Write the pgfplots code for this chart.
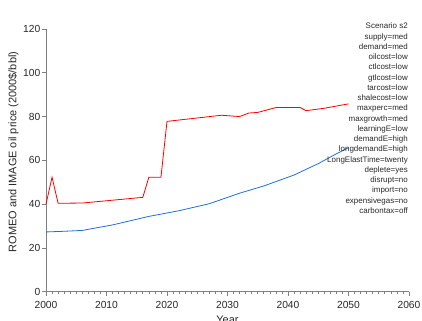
\documentclass[border=0pt]{standalone}
\usepackage{pgfplots}
\pgfplotsset{compat=1.18}
\usepackage{fontspec}
\setmainfont{Liberation Sans}
\definecolor{romeored}{RGB}{255,0,0}
\definecolor{imageblue}{RGB}{30,112,215}
\definecolor{axisgray}{RGB}{128,128,128}
\definecolor{labelgray}{RGB}{40,40,40}

\begin{document}
\begin{tikzpicture}
\begin{axis}[
  scale only axis,
  width=363bp, height=262.7bp,
  xmin=2000, xmax=2060, ymin=0, ymax=120,
  axis lines=left,
  axis line style={-, axisgray, line width=0.9bp},
  tick style={axisgray, line width=0.7bp},
  tick align=outside,
  major tick length=4bp,
  minor tick length=2bp,
  xtick={2000,2010,...,2060},
  ytick={0,20,...,120},
  minor x tick num=9,
  minor y tick num=0,
  /pgf/number format/assume math mode=true,
  /pgf/number format/1000 sep={},
  tick label style={font=\fontsize{10.3}{12}\selectfont, text=labelgray},
  xticklabel style={inner sep=1bp, yshift=-4bp},
  yticklabel style={inner sep=1.5bp},
  xlabel={Year},
  ylabel={ROMEO and IMAGE oil price (2000\$/bbl)},
  label style={font=\fontsize{11}{13}\selectfont, text=labelgray},
  xlabel style={at={(rel axis cs:0.5,0)}, anchor=north, inner sep=0pt, yshift=-24bp},
  ylabel style={at={(rel axis cs:0,0.532)}, anchor=center, yshift=32.5bp},
  clip=false,
]
% ROMEO oil price
\addplot[romeored, line width=0.8bp] coordinates {
  (2000,40.0) (2001,52.3) (2002,40.4) (2006,40.5) (2016,43.1)
  (2017,52.3) (2019,52.3) (2020,77.8) (2029,80.6) (2032,80.0)
  (2033.5,81.6) (2035,81.9) (2038,84.1) (2042,84.1) (2043,82.7)
  (2046,83.8) (2050,85.8)
};
% IMAGE oil price
\addplot[imageblue, line width=0.8bp] coordinates {
  (2000,27.3) (2003,27.6) (2006,28.0) (2011,30.5) (2017,34.4)
  (2019.5,35.7) (2022,37.0) (2027,40.2) (2032,45.0) (2036,48.3)
  (2041,53.3) (2045,58.5) (2048,63.0) (2050,65.8)
};
\node[anchor=north east, align=right, inner sep=0pt, text=labelgray,
      font=\fontsize{8}{10.28}\selectfont]
  at ([yshift=6bp,xshift=-1bp]rel axis cs:1,1)
  {Scenario s2\\supply=med\\demand=med\\oilcost=low\\ctlcost=low\\gtlcost=low\\
   tarcost=low\\shalecost=low\\maxperc=med\\maxgrowth=med\\learningE=low\\
   demandE=high\\longdemandE=high\\LongElastTime=twenty\\deplete=yes\\
   disrupt=no\\import=no\\expensivegas=no\\carbontax=off};
\coordinate (bl) at (rel axis cs:0,0);
\coordinate (tr) at (rel axis cs:1,1);
\end{axis}
\pgfresetboundingbox
\path ([xshift=-46bp,yshift=-28.3bp]bl) rectangle ([xshift=13bp,yshift=29bp]tr);
\end{tikzpicture}
\end{document}
